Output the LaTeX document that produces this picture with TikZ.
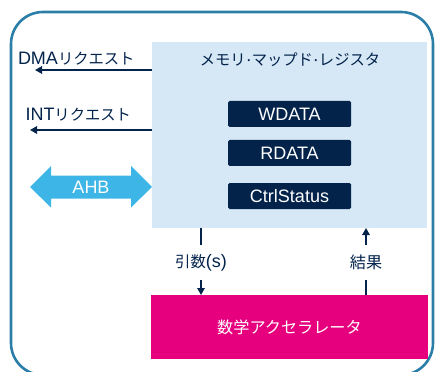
\documentclass[tikz,border=0pt]{standalone}
\usepackage{fontspec}
\setmainfont{Liberation Sans}
\newfontfamily\jp[Scale=0.85]{Noto Sans CJK JP}
\usetikzlibrary{arrows.meta}
\definecolor{navy}{HTML}{03234B}
\definecolor{frame}{HTML}{2B7EA8}
\definecolor{regfill}{HTML}{D6E7F5}
\definecolor{ahbblue}{HTML}{3DB5E6}
\definecolor{magenta}{HTML}{E6007E}
\tikzset{
  txt/.style={inner sep=0pt, outer sep=0pt, text=navy, font=\fontsize{18}{20}\selectfont},
  regbox/.style={fill=navy, rounded corners=1.5pt, minimum width=123pt, minimum height=26pt, inner sep=0pt, text=white, font=\fontsize{18}{20}\selectfont},
  line/.style={draw=navy, line width=1.4pt},
  arr/.style={line, -{Triangle[length=7pt,width=7.5pt]}},
}
\begin{document}
\begin{tikzpicture}[x=1pt,y=-1pt]
\useasboundingbox (0,0) rectangle (435,371);
\begin{scope}
  \clip (0,0) rectangle (435,371);
  \draw[frame, line width=2.6pt, rounded corners=32pt] (11,12) rectangle (433,375);
\end{scope}
% memory mapped register block
\node[fill=regfill, inner sep=0pt, outer sep=0pt, minimum width=275pt, minimum height=186pt, anchor=north west] (reg) at (152,42) {};
\node[txt] (title) at (290,60) {{\jp メモリ}·{\jp マップド}·{\jp レジスタ}};
\node[regbox] (wdata) at (289.5,114) {WDATA};
\node[regbox] (rdata) at (289.5,153) {RDATA};
\node[regbox] (ctrl) at (289.5,196) {CtrlStatus};
% accelerator
\node[fill=magenta, inner sep=0pt, outer sep=0pt, minimum width=277pt, minimum height=64pt, anchor=north west, text=white, font=\fontsize{19}{22}\selectfont] (acc) at (151,295) {};
\node[text=white, inner sep=0pt, font=\fontsize{19}{22}\selectfont] (acclbl) at (acc.center) {\jp 数学アクセラレータ};
% requests
\node[txt, anchor=west] (dmalbl) at (18,59) {DMA{\jp リクエスト}};
\coordinate (dmaend) at (35,70);
\draw[arr] (reg.west |- dmaend) -- (dmaend);
\node[txt, anchor=west] (intlbl) at (25.5,115) {INT{\jp リクエスト}};
\coordinate (intend) at (30,130);
\draw[arr] (reg.west |- intend) -- (intend);
% AHB
\fill[ahbblue] (30,187) -- (51,166) -- (51,175.5) -- (131,175.5) -- (131,166) -- (152,187) -- (131,207.5) -- (131,198.5) -- (51,198.5) -- (51,207.5) -- cycle;
\node[txt, text=white] (ahb) at (91,187) {AHB};
% arguments and result
\node[txt, minimum height=35pt] (args) at (201,262.5) {{\jp 引数}(s)};
\draw[line] (reg.south -| args) -- (args.north);
\draw[arr] (args.south) -- (acc.north -| args);
\node[txt, minimum height=35pt, font=\fontsize{19}{22}\selectfont] (res) at (366,262.5) {\jp 結果};
\draw[line] (acc.north -| res) -- (res.south);
\draw[arr] (res.north) -- (reg.south -| res);
\end{tikzpicture}
\end{document}
